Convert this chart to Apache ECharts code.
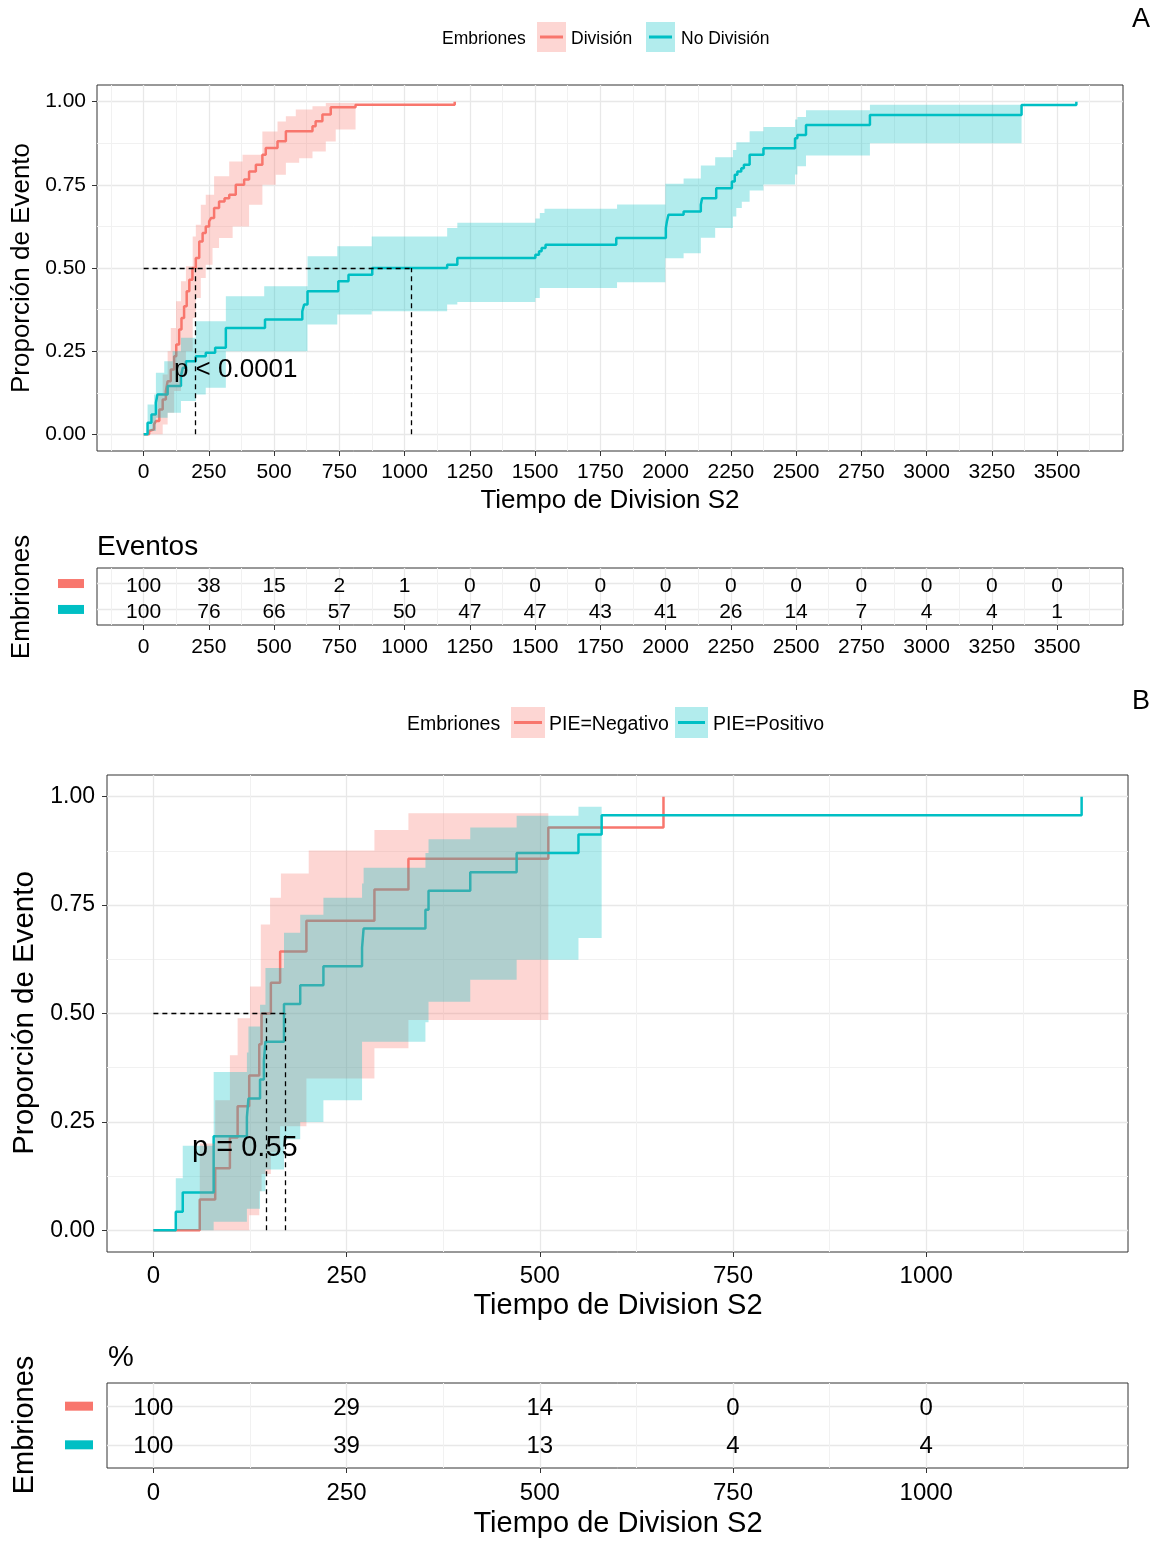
<!DOCTYPE html>
<html><head><meta charset="utf-8">
<script src="https://cdn.jsdelivr.net/npm/echarts@6/dist/echarts.min.js"></script>
<style>html,body{margin:0;padding:0;background:#fff}#c{width:1157px;height:1541px}</style>
</head><body><div id="c"></div>
<script>
const RED = '#F8766D', TEAL = '#00BFC4';
const RED_A = 'rgba(248,118,109,0.3)', TEAL_A = 'rgba(0,191,196,0.3)';
const FONT = '"Liberation Sans", Arial, Helvetica, sans-serif';

// ---------- Panel A ----------
const aGroups = ['División', 'No División'];
const aXTicks = [0,250,500,750,1000,1250,1500,1750,2000,2250,2500,2750,3000,3250,3500];
const aXMinor = [-125,125,375,625,875,1125,1375,1625,1875,2125,2375,2625,2875,3125,3375,3625];
const yTicks = [0,0.25,0.5,0.75,1];
const yMinor = [0.125,0.375,0.625,0.875];

const aRedLine = [[0,0],[21,0.01],[28,0.015],[40,0.03],[47,0.04],[60,0.075],[73,0.105],[85,0.13],[92,0.16],[104,0.195],[117,0.235],[125,0.27],[136,0.315],[145,0.35],[155,0.385],[165,0.43],[175,0.465],[187,0.5],[200,0.53],[213,0.58],[226,0.605],[238,0.625],[251,0.64],[258,0.65],[270,0.68],[289,0.70],[310,0.71],[328,0.72],[353,0.75],[385,0.766],[404,0.79],[430,0.81],[455,0.84],[468,0.861],[513,0.881],[545,0.911],[647,0.926],[659,0.941],[685,0.961],[717,0.983],[812,0.991],[1192,1.0]];
const aRedUpper = [[0,0],[21,0.01],[34,0.06],[54,0.12],[73,0.18],[92,0.25],[104,0.32],[124,0.40],[143,0.46],[162,0.505],[188,0.595],[200,0.63],[219,0.69],[238,0.72],[270,0.776],[328,0.82],[379,0.84],[455,0.91],[513,0.94],[545,0.956],[583,0.976],[647,0.986],[698,0.996]];
const aRedLower = [[0,0],[47,0],[73,0.03],[92,0.065],[117,0.13],[143,0.18],[162,0.25],[188,0.35],[200,0.41],[219,0.47],[238,0.51],[264,0.56],[289,0.59],[341,0.625],[404,0.69],[455,0.75],[506,0.78],[545,0.816],[596,0.83],[647,0.85],[698,0.88],[736,0.916]];
const aRedBandEnd = 812;

const aTealLine = [[0,0],[15,0.035],[30,0.06],[47,0.095],[53,0.12],[92,0.145],[143,0.175],[150,0.2],[162,0.22],[200,0.235],[238,0.245],[274,0.26],[315,0.32],[465,0.345],[608,0.37],[615,0.39],[628,0.43],[746,0.46],[785,0.48],[876,0.5],[1163,0.51],[1202,0.53],[1501,0.54],[1515,0.55],[1525,0.56],[1540,0.57],[1811,0.59],[2001,0.62],[2005,0.64],[2011,0.66],[2069,0.67],[2135,0.69],[2140,0.71],[2194,0.74],[2254,0.76],[2265,0.78],[2275,0.79],[2290,0.80],[2300,0.81],[2322,0.84],[2375,0.86],[2496,0.89],[2505,0.90],[2538,0.93],[2783,0.96],[3364,0.99],[3574,1.0]];
const aTealUpper = [[0,0],[15,0.09],[40,0.12],[47,0.185],[79,0.22],[111,0.25],[143,0.29],[200,0.34],[315,0.415],[462,0.445],[628,0.535],[742,0.565],[874,0.595],[1163,0.62],[1202,0.636],[1501,0.649],[1518,0.665],[1536,0.678],[1814,0.691],[1999,0.753],[2069,0.769],[2135,0.808],[2190,0.833],[2258,0.855],[2271,0.878],[2322,0.911],[2375,0.924],[2496,0.946],[2505,0.954],[2538,0.974],[2783,0.991]];
const aTealLower = [[0,0],[21,0.01],[47,0.05],[92,0.065],[143,0.10],[200,0.12],[238,0.14],[315,0.25],[628,0.33],[742,0.36],[874,0.37],[1163,0.39],[1202,0.398],[1501,0.41],[1518,0.44],[1814,0.457],[1999,0.529],[2069,0.544],[2135,0.591],[2190,0.62],[2258,0.655],[2271,0.68],[2292,0.699],[2322,0.733],[2375,0.751],[2496,0.781],[2505,0.806],[2538,0.838],[2783,0.875]];
const aTealBandEnd = 3364;

const aMedians = [196, 1024];
const aPText = 'p < 0.0001';
const aPAnchor = [116, 0.195];

const aRiskTimes = aXTicks;
const aRiskRed  = [100,38,15,2,1,0,0,0,0,0,0,0,0,0,0];
const aRiskTeal = [100,76,66,57,50,47,47,43,41,26,14,7,4,4,1];

// ---------- Panel B ----------
const bGroups = ['PIE=Negativo', 'PIE=Positivo'];
const bXTicks = [0,250,500,750,1000];
const bXMinor = [125,375,625,875,1125];

const bRedLine = [[0,0],[60,0.071],[80,0.143],[99,0.214],[109,0.286],[124,0.357],[137,0.429],[140,0.5],[152,0.571],[164,0.643],[198,0.714],[286,0.786],[330,0.857],[511,0.929],[660,1.0]];
const bRedUpper = [[0,0],[60,0.2],[80,0.3],[99,0.404],[109,0.489],[125,0.562],[139,0.705],[151,0.767],[165,0.823],[201,0.876],[286,0.923],[330,0.962]];
const bRedLower = [[0,0],[124,0.035],[137,0.09],[140,0.13],[152,0.18],[164,0.24],[198,0.35],[286,0.42],[330,0.485]];
const bRedBandEnd = 511;

const bTealLine = [[0,0],[29,0.043],[38,0.087],[78,0.217],[121,0.261],[123,0.304],[138,0.348],[143,0.391],[145,0.435],[169,0.522],[190,0.565],[220,0.609],[270,0.652],[272,0.696],[352,0.739],[356,0.783],[410,0.826],[470,0.870],[550,0.913],[580,0.957],[1201,1.0]];
const bTealUpper = [[0,0],[29,0.12],[38,0.195],[78,0.365],[121,0.41],[123,0.47],[138,0.52],[145,0.605],[169,0.686],[190,0.728],[220,0.767],[270,0.80],[272,0.836],[352,0.87],[356,0.902],[410,0.929],[470,0.956],[550,0.977]];
const bTealLower = [[0,0],[78,0.02],[121,0.05],[138,0.09],[145,0.14],[169,0.21],[190,0.25],[220,0.30],[270,0.435],[352,0.48],[356,0.527],[410,0.578],[470,0.624],[550,0.674]];
const bTealBandEnd = 580;

const bMedians = [146, 170];
const bPText = 'p = 0.55';
const bPAnchor = [50, 0.19];

const bRiskTimes = bXTicks;
const bRiskRed  = [100,29,14,0,0];
const bRiskTeal = [100,39,13,4,4];

// ---------- helpers ----------
function stepPath(pts, tEnd) {
  const out = [];
  for (let i = 0; i < pts.length; i++) {
    const nx = i + 1 < pts.length ? pts[i + 1][0] : tEnd;
    out.push([pts[i][0], pts[i][1]]);
    out.push([nx, pts[i][1]]);
  }
  return out;
}
function bandPoly(upper, lower, tEnd) {
  return stepPath(upper, tEnd).concat(stepPath(lower, tEnd).reverse());
}
function bandSeries(xi, yi, upper, lower, tEnd, fill) {
  const poly = bandPoly(upper, lower, tEnd);
  return {
    type: 'custom', xAxisIndex: xi, yAxisIndex: yi, data: [[0, 0]], silent: true, z: 3,
    renderItem: (params, api) => ({
      type: 'polygon',
      shape: { points: poly.map(p => api.coord(p)) },
      style: { fill: fill }
    })
  };
}
function kmLine(xi, yi, data, color) {
  return { type: 'line', xAxisIndex: xi, yAxisIndex: yi, data: data, step: 'end',
    showSymbol: false, symbol: 'none', silent: true, z: 2,
    lineStyle: { color: color, width: 2.5 } };
}
function medianSeries(xi, yi, meds) {
  const maxMed = Math.max.apply(null, meds);
  const lines = [[{ coord: [0, 0.5] }, { coord: [maxMed, 0.5] }]];
  meds.forEach(m => lines.push([{ coord: [m, 0] }, { coord: [m, 0.5] }]));
  return { type: 'line', xAxisIndex: xi, yAxisIndex: yi, data: [], z: 5, silent: true,
    markLine: { silent: true, symbol: ['none', 'none'], animation: false, label: { show: false },
      lineStyle: { color: '#000', type: [5, 4], width: 1.3 }, data: lines } };
}
function pTextSeries(xi, yi, anchor, text, fs) {
  return { type: 'custom', xAxisIndex: xi, yAxisIndex: yi, data: [anchor], z: 6, silent: true,
    renderItem: (params, api) => {
      const pt = api.coord([api.value(0), api.value(1)]);
      return { type: 'text', x: pt[0], y: pt[1],
        style: { text: text, fontSize: fs, fontFamily: FONT, fill: '#000', align: 'left', verticalAlign: 'middle' } };
    } };
}
function riskSeries(xi, yi, times, vals, row, fs, dy) {
  return { type: 'custom', xAxisIndex: xi, yAxisIndex: yi, silent: true, z: 4,
    data: times.map((t, i) => [t, row, vals[i]]),
    renderItem: (params, api) => {
      const pt = api.coord([api.value(0), api.value(1)]);
      return { type: 'text', x: pt[0], y: pt[1] + dy,
        style: { text: String(api.value(2)), fontSize: fs, fontFamily: FONT, fill: '#000',
          align: 'center', verticalAlign: 'middle' } };
    } };
}
function mainX(gi, min, max, ticks, fs, margin) {
  return { type: 'value', gridIndex: gi, min: min, max: max,
    axisLine: { show: false, onZero: false },
    axisTick: { show: true, customValues: ticks, length: 5, lineStyle: { color: '#333', width: 1 } },
    axisLabel: { show: true, customValues: ticks, fontSize: fs, fontFamily: FONT, color: '#000', margin: margin,
      formatter: v => String(v) },
    splitLine: { show: true, lineStyle: { color: '#e8e8e8', width: 1.3 } } };
}
function minorAxis(type, gi, min, max, ticks) {
  return { type: 'value', gridIndex: gi, min: min, max: max,
    axisLine: { show: false, onZero: false },
    axisTick: { show: false, customValues: ticks },
    axisLabel: { show: false, customValues: ticks },
    splitLine: { show: true, lineStyle: { color: '#f1f1f1', width: 1 } } };
}
function mainY(gi, ticks, fs, margin) {
  return { type: 'value', gridIndex: gi, min: -0.05, max: 1.05,
    axisLine: { show: false, onZero: false },
    axisTick: { show: true, customValues: ticks, length: 5, lineStyle: { color: '#333', width: 1 } },
    axisLabel: { show: true, customValues: ticks, fontSize: fs, fontFamily: FONT, color: '#000', margin: margin,
      formatter: v => Number(v).toFixed(2) },
    splitLine: { show: true, lineStyle: { color: '#e8e8e8', width: 1.3 } } };
}
function tableY(gi, rectW, rectH, margin) {
  return { type: 'value', gridIndex: gi, min: 0.4, max: 2.6,
    axisLine: { show: false, onZero: false },
    axisTick: { show: false, customValues: [1, 2] },
    axisLabel: { show: true, customValues: [1, 2], margin: margin,
      formatter: v => (v === 2 ? '{r| }' : '{t| }'),
      rich: { r: { backgroundColor: RED, width: rectW, height: rectH },
              t: { backgroundColor: TEAL, width: rectW, height: rectH } } },
    splitLine: { show: true, lineStyle: { color: '#e8e8e8', width: 1.3 } } };
}
function txt(x, y, text, fs, align, rot) {
  return { type: 'text', x: x, y: y, rotation: rot || 0, silent: true,
    style: { text: text, fontSize: fs, fontFamily: FONT, fill: '#000', align: align || 'left', verticalAlign: 'middle' } };
}
function key(x, y, w, h, fill, color) {
  return [
    { type: 'rect', shape: { x: x, y: y, width: w, height: h }, style: { fill: fill }, silent: true },
    { type: 'line', shape: { x1: x + 3, y1: y + h / 2, x2: x + w - 3, y2: y + h / 2 }, style: { stroke: color, lineWidth: 3 }, silent: true }
  ];
}

const AXMIN = -178.7, AXMAX = 3752.7, BXMIN = -60, BXMAX = 1261;
const gridStyle = { show: true, borderColor: '#333', borderWidth: 1, backgroundColor: 'rgba(0,0,0,0)' };

const option = {
  animation: false,
  backgroundColor: '#fff',
  grid: [
    Object.assign({ left: 97, top: 85, width: 1026, height: 366 }, gridStyle),
    Object.assign({ left: 97, top: 568, width: 1026, height: 57 }, gridStyle),
    Object.assign({ left: 107, top: 775, width: 1021, height: 477 }, gridStyle),
    Object.assign({ left: 107, top: 1383, width: 1021, height: 85 }, gridStyle)
  ],
  xAxis: [
    mainX(0, AXMIN, AXMAX, aXTicks, 21, 11),
    minorAxis('x', 0, AXMIN, AXMAX, aXMinor),
    mainX(1, AXMIN, AXMAX, aXTicks, 21, 12),
    minorAxis('x', 1, AXMIN, AXMAX, aXMinor),
    mainX(2, BXMIN, BXMAX, bXTicks, 24, 12),
    minorAxis('x', 2, BXMIN, BXMAX, bXMinor),
    mainX(3, BXMIN, BXMAX, bXTicks, 24, 13),
    minorAxis('x', 3, BXMIN, BXMAX, bXMinor)
  ],
  yAxis: [
    mainY(0, yTicks, 21, 11),
    minorAxis('y', 0, -0.05, 1.05, yMinor),
    tableY(1, 26, 9, 13),
    mainY(2, yTicks, 23, 12),
    minorAxis('y', 2, -0.05, 1.05, yMinor),
    tableY(3, 28, 9, 14)
  ],
  series: [
    // Panel A
    kmLine(0, 0, aRedLine, RED),
    kmLine(0, 0, aTealLine, TEAL),
    bandSeries(0, 0, aRedUpper, aRedLower, aRedBandEnd, RED_A),
    bandSeries(0, 0, aTealUpper, aTealLower, aTealBandEnd, TEAL_A),
    medianSeries(0, 0, aMedians),
    pTextSeries(0, 0, aPAnchor, aPText, 26),
    riskSeries(2, 2, aRiskTimes, aRiskRed, 2, 21, 3),
    riskSeries(2, 2, aRiskTimes, aRiskTeal, 1, 21, 3),
    // Panel B
    kmLine(4, 3, bRedLine, RED),
    kmLine(4, 3, bTealLine, TEAL),
    bandSeries(4, 3, bRedUpper, bRedLower, bRedBandEnd, RED_A),
    bandSeries(4, 3, bTealUpper, bTealLower, bTealBandEnd, TEAL_A),
    medianSeries(4, 3, bMedians),
    pTextSeries(4, 3, bPAnchor, bPText, 29),
    riskSeries(6, 5, bRiskTimes, bRiskRed, 2, 24, 2),
    riskSeries(6, 5, bRiskTimes, bRiskTeal, 1, 24, 2)
  ],
  graphic: [].concat(
    [txt(1141, 20, 'A', 27, 'center'),
     txt(442, 39, 'Embriones', 17.5),
     txt(571, 39, aGroups[0], 17.5),
     txt(681, 39, aGroups[1], 17.5)],
    key(537, 22, 29, 30, RED_A, RED),
    key(646, 22, 29, 30, TEAL_A, TEAL),
    [txt(22, 268, 'Proporción de Evento', 26, 'center', Math.PI / 2),
     txt(610, 501, 'Tiempo de Division S2', 26, 'center'),
     txt(97, 547, 'Eventos', 28),
     txt(22, 597, 'Embriones', 26, 'center', Math.PI / 2),
     txt(1141, 702, 'B', 27, 'center'),
     txt(407, 725, 'Embriones', 19.5),
     txt(549, 725, bGroups[0], 19.5),
     txt(713, 725, bGroups[1], 19.5)],
    key(511, 707, 34, 31, RED_A, RED),
    key(675, 707, 33, 31, TEAL_A, TEAL),
    [txt(25, 1013, 'Proporción de Evento', 29.5, 'center', Math.PI / 2),
     txt(618, 1306, 'Tiempo de Division S2', 29, 'center'),
     txt(108, 1358, '%', 29),
     txt(25, 1425, 'Embriones', 29, 'center', Math.PI / 2),
     txt(618, 1524, 'Tiempo de Division S2', 29, 'center')]
  )
};

const chart = echarts.init(document.getElementById('c'), null, { renderer: 'canvas' });
chart.setOption(option);
</script></body></html>
